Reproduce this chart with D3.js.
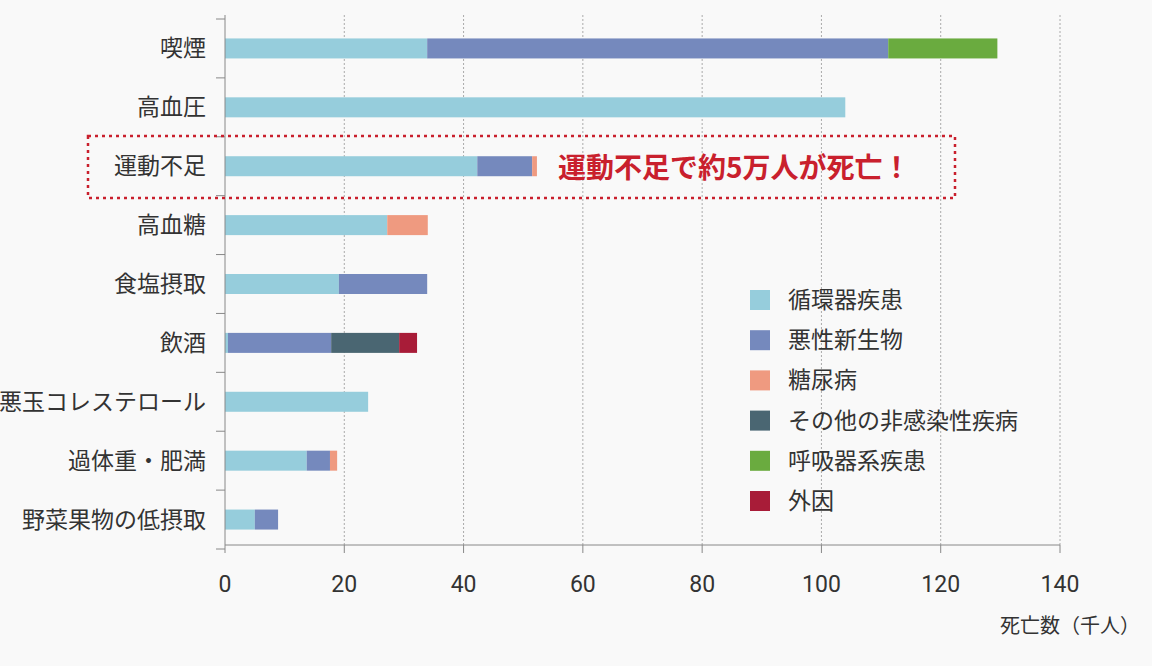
<!DOCTYPE html>
<html><head><meta charset="utf-8">
<script src="https://cdn.jsdelivr.net/npm/d3@7"></script>
<style>body{margin:0;background:#f9f9f9;font-family:"Noto Sans CJK JP","Noto Sans",sans-serif}</style>
</head><body><svg id="c" width="1152" height="666"></svg>
<script>
const categories=["喫煙","高血圧","運動不足","高血糖","食塩摂取","飲酒","悪玉コレステロール","過体重・肥満","野菜果物の低摂取"];
const seriesNames=["循環器疾患","悪性新生物","糖尿病","その他の非感染性疾病","呼吸器系疾患","外因"];
const colors=["#96cddc","#7589bd","#ef9a80","#4a6672","#6aab3f","#a81c38"];
const cardio=[33.9,104,42.3,27.2,19.1,0.5,24.0,13.7,5.0];
const neoplasm=[77.3,0,9.2,0,14.8,17.3,0,3.9,3.9];
const diabetes=[0,0,0.8,6.8,0,0,0,1.2,0];
const otherNCD=[0,0,0,0,0,11.4,0,0,0];
const respiratory=[18.3,0,0,0,0,0,0,0,0];
const external=[0,0,0,0,0,3.0,0,0,0];
const ticks=[0,20,40,60,80,100,120,140];
const vals=[cardio,neoplasm,diabetes,otherNCD,respiratory,external];

const svg=d3.select("#c");
const x=d3.scaleLinear().domain([0,140]).range([225,1060]);
const band=d3.scaleBand().domain(categories).range([19,549]);

svg.selectAll(".g").data(ticks.slice(1)).join("line").attr("x1",d=>x(d)).attr("x2",d=>x(d)).attr("y1",15).attr("y2",545).attr("stroke","#aaa").attr("stroke-dasharray","2,2");

const stack=categories.map((c,i)=>{let s=0;return vals.map((v,k)=>{const o={k,c,x0:s,x1:s+v[i]};s+=v[i];return o;}).filter(o=>o.x1>o.x0);}).flat();
svg.selectAll(".b").data(stack).join("rect").attr("x",d=>x(d.x0)).attr("width",d=>x(d.x1)-x(d.x0)).attr("y",d=>band(d.c)+band.bandwidth()/2-10).attr("height",20).attr("fill",d=>colors[d.k]);

svg.append("line").attr("x1",225).attr("x2",225).attr("y1",15).attr("y2",545).attr("stroke","#888");
svg.append("line").attr("x1",225).attr("x2",1060).attr("y1",545).attr("y2",545).attr("stroke","#888");
svg.selectAll(".tk").data(ticks).join("line").attr("x1",d=>x(d)).attr("x2",d=>x(d)).attr("y1",545).attr("y2",553).attr("stroke","#888");
svg.selectAll(".yt").data(d3.range(categories.length+1)).join("line").attr("x1",216).attr("x2",225).attr("y1",i=>19+i*band.step()).attr("y2",i=>19+i*band.step()).attr("stroke","#888");
svg.selectAll(".tl").data(ticks).join("text").attr("x",d=>x(d)).attr("y",592).attr("text-anchor","middle").attr("font-size",23).attr("fill","#333").attr("font-family","Roboto,sans-serif").text(d=>d);
svg.selectAll(".cl").data(categories).join("text").attr("x",206).attr("y",d=>band(d)+band.bandwidth()/2+8).attr("text-anchor","end").attr("font-size",23).attr("fill","#333").text(d=>d);
svg.append("text").attr("x",1140).attr("y",633).attr("text-anchor","end").attr("font-size",20).attr("fill","#333").text("死亡数（千人）");

svg.append("rect").attr("x",88).attr("y",136).attr("width",867).attr("height",62).attr("fill","none").attr("stroke","#c9202d").attr("stroke-width",2.5).attr("stroke-dasharray","3,4");
svg.append("text").attr("x",558).attr("y",178).attr("font-size",28).attr("font-weight","bold").attr("fill","#c9202d").text("運動不足で約5万人が死亡！");

const lg=svg.selectAll(".lg").data(seriesNames).join("g").attr("transform",(d,i)=>`translate(750,${290+i*40.2})`);
lg.append("rect").attr("width",20).attr("height",20).attr("fill",(d,i)=>colors[i]);
lg.append("text").attr("x",38).attr("y",18).attr("font-size",23).attr("fill","#333").text(d=>d);
</script></body></html>
